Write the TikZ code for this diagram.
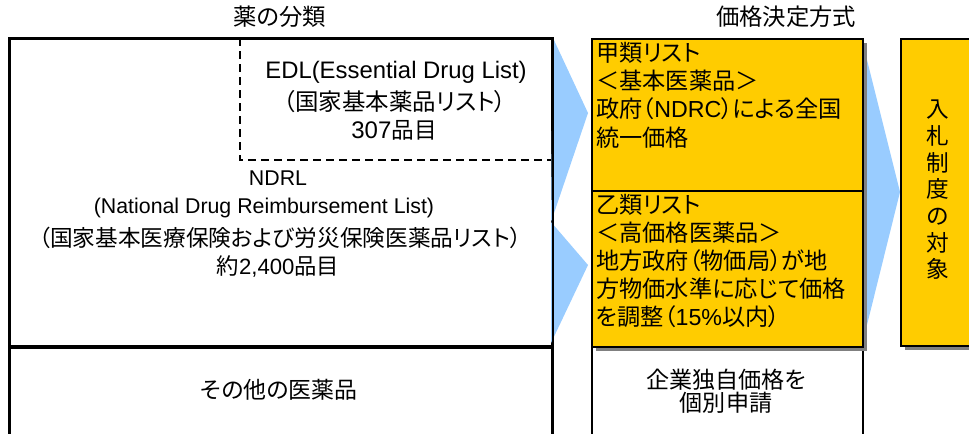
\documentclass[tikz,border=0pt]{standalone}
\usepackage{fontspec}
\setmainfont{Noto Sans CJK JP}[RawFeature=+palt]
\newfontfamily\lat{Liberation Sans}
\definecolor{ylw}{RGB}{255,204,0}
\definecolor{lblue}{RGB}{153,204,255}
\definecolor{shd}{RGB}{128,128,128}
\begin{document}
\begin{tikzpicture}[x=0.75pt,y=-0.75pt,
  sz/.style 2 args={minimum width={#1*0.75pt}, minimum height={#2*0.75pt}},
  box/.style={draw=black, line width=1.5pt, inner sep=0pt, anchor=north west},
  ybox/.style={box, fill=ylw},
  shadowbox/.style={fill=shd, inner sep=0pt, anchor=north west},
  arrowtri/.style={fill=lblue},
  edlbox/.style={draw=black, line width=1.1pt, dash pattern=on 6pt off 3.75pt},
  txt/.style 2 args={inner sep=0pt, font=\fontsize{#1}{#2}\selectfont, align=center},
  ltxt/.style 2 args={inner sep=0pt, font=\fontsize{#1}{#2}\selectfont, align=left}
]
\useasboundingbox (0,0) rectangle (969,433);
\clip (0,0) rectangle (969,433);

% boxes (geometry)
\node[box, sz={542}{308}] (ndrl) at (9,38) {};
\node[box, sz={542}{120}] (other) at (9,346) {};
\node[box, sz={271}{120}] (indiv) at (591,346) {};
\coordinate (edlnw) at (240,38);
\coordinate (edlse) at (551,160);

% blue arrow triangles
\coordinate (t1a) at (588,113);
\coordinate (t1b) at (551,222);
\coordinate (t2a) at (588,265);
\coordinate (t2b) at (551,343);
\coordinate (t3a) at (900,192);
\fill[arrowtri] (ndrl.north east) -- (t1a) -- (t1b) -- cycle;
\fill[arrowtri] (t1b) -- (t2a) -- (t2b) -- cycle;
\fill[arrowtri] (862,40) -- (t3a) -- (862,345) -- cycle;

% shadows
\node[shadowbox, sz={271}{308}] (koshd) at (596,43) {};
\node[shadowbox, sz={80}{307}] (nyushd) at (905,43) {};

% yellow boxes
\node[ybox, sz={271}{152}] (koh) at (591,38) {};
\node[ybox, sz={271}{156}] (otsu) at (591,190) {};
\node[ybox, sz={80}{307}] (nyu) at (900,38) {};

% redraw main box borders over triangles
\draw[line width=1.5pt] (ndrl.north west) rectangle (ndrl.south east);
\draw[line width=1.5pt] (other.north west) rectangle (other.south east);

% dashed EDL box
\draw[edlbox] (edlnw) -- (edlnw |- edlse) -- (edlse);

% titles
\node[txt={17.5}{20}] (t1) at (280,17) {薬の分類};
\node[txt={17.5}{20}] (t2) at (786,17) {価格決定方式};

% EDL texts
\node[txt={17}{20}] (edl1) at (396,72) {\lat\fontsize{17.9}{20}\selectfont EDL(Essential Drug List)};
\node[txt={17.6}{20}] (edl2) at (395,102) {（国家基本薬品リスト）};
\node[txt={17}{20}] (edl3) at (394,130) {{\lat\fontsize{18}{20}\selectfont 307}品目};

% NDRL texts
\node[txt={16}{20}] (nd1) at (278,178) {\lat NDRL};
\node[txt={16}{20}] (nd2) at (264,208) {\lat (National Drug Reimbursement List)};
\node[txt={17}{20}] (nd3) at (280,238) {（国家基本医療保険および労災保険医薬品リスト）};
\node[txt={16.8}{20}] (nd4) at (278,266) {約{\lat\fontsize{16.6}{20}\selectfont 2,400}品目};

\node[txt={17.2}{20}] (othertxt) at (279,390) {その他の医薬品};
\node[ltxt={17.4}{21.2pt}, anchor=west] (kohtxt) at (596,95) {甲類リスト\\＜基本医薬品＞\\政府（{\lat NDRC}）による全国\\統一価格};
\node[ltxt={17.4}{21pt}, anchor=west] (otsutxt) at (596,261) {乙類リスト\\＜高価格医薬品＞\\地方政府（物価局）が地\\方物価水準に応じて価格\\を調整（{\lat 15\%}以内）};
\node[txt={17.3}{17.3pt}] (indivtxt) at (726,391) {企業独自価格を\\個別申請};
\node[txt={17}{20pt}] (nyutxt) at (938,190) {入\\札\\制\\度\\の\\対\\象};
\end{tikzpicture}
\end{document}
